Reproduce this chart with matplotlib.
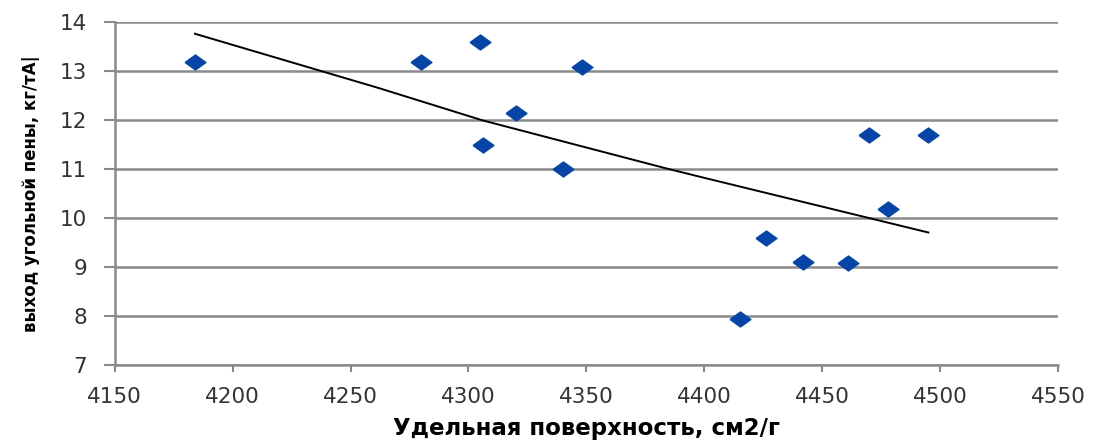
import numpy as np
import matplotlib
matplotlib.use("Agg")
import matplotlib.pyplot as plt

# specific surface (cm2/g) and carbon foam yield
surface = [4184, 4280, 4305, 4306, 4320, 4340, 4348, 4415, 4426, 4442, 4461, 4470, 4478, 4495]
foam_yield = [13.2, 13.2, 13.6, 11.5, 12.15, 11.0, 13.1, 7.95, 9.6, 9.1, 9.08, 11.7, 10.2, 11.7]

# trend line as drawn in the picture
trend_x = [4184, 4262, 4306, 4383, 4398, 4432, 4495]
trend_y = [13.77, 12.66, 12.0, 11.03, 10.85, 10.45, 9.71]

x_ticks = [4150, 4200, 4250, 4300, 4350, 4400, 4450, 4500, 4550]
y_ticks = [7, 8, 9, 10, 11, 12, 13, 14]

fig = plt.figure(figsize=(10.93, 4.41), dpi=100)
ax = fig.add_axes([0.105, 0.172, 0.863, 0.777])

grey = "#8a8a8a"

# Data
diamond = [(-1, 0), (0, 0.72), (1, 0), (0, -0.72), (-1, 0)]
ax.plot(surface, foam_yield, linestyle="none", marker=diamond, markersize=15,
        color="#0645a8", zorder=3)
ax.plot(trend_x, trend_y, color="black", linewidth=1.4, zorder=2)

# Axes
ax.set_xlim(4150, 4550)
ax.set_ylim(7, 14)
ax.set_xticks(x_ticks)
ax.set_yticks(y_ticks)
ax.grid(axis="y", color=grey, linewidth=1.8)
ax.set_axisbelow(True)

for side in ["top", "right"]:
    ax.spines[side].set_visible(False)
for side in ["left", "bottom"]:
    ax.spines[side].set_color(grey)
    ax.spines[side].set_linewidth(1.8)

ax.tick_params(axis="x", length=5, width=1.5, color=grey, pad=11,
               labelsize=15.5, labelcolor="#333333")
ax.tick_params(axis="y", length=8, width=1.5, color=grey, pad=12,
               labelsize=15.5, labelcolor="#333333")

# Labels
ax.set_xlabel("Удельная поверхность, см2/г", fontsize=16.5, fontweight="bold",
              labelpad=7)
ax.set_ylabel("выход угольной пены, кг/тА|", fontsize=12, fontweight="bold",
              labelpad=14)

fig.savefig("out.png", dpi=100)
